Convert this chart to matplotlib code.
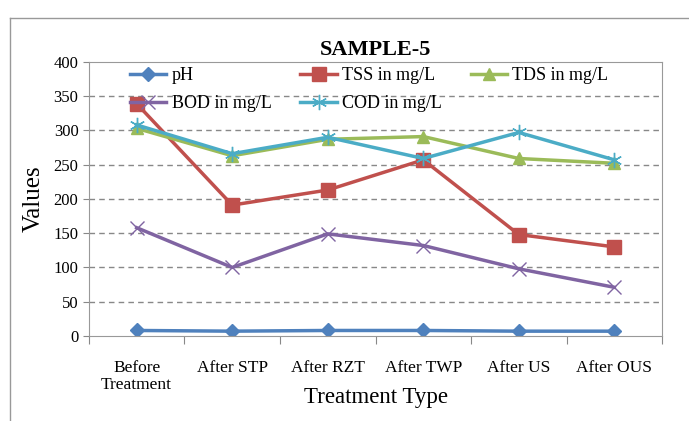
import matplotlib.pyplot as plt
from matplotlib.lines import Line2D

plt.rcParams['font.family'] = ['Liberation Serif', 'DejaVu Serif']

categories = ["Before\nTreatment", "After STP", "After RZT", "After TWP", "After US", "After OUS"]
ph = [8, 7, 8, 8, 7, 7]
tss = [339, 191, 213, 257, 148, 130]
tds = [303, 263, 287, 291, 259, 252]
bod = [158, 100, 149, 132, 98, 71]
cod = [308, 266, 290, 259, 297, 257]

fig = plt.figure(figsize=(6.89, 4.21), dpi=100)
ax = fig.add_axes([0.129, 0.202, 0.832, 0.651])

x = list(range(len(categories)))
lw = 2.5
l_ph, = ax.plot(x, ph, color="#4F81BD", lw=lw, marker="D", ms=7, label="pH")
l_tss, = ax.plot(x, tss, color="#C0504D", lw=lw, marker="s", ms=10, label="TSS in mg/L")
l_tds, = ax.plot(x, tds, color="#9BBB59", lw=lw, marker="^", ms=9, label="TDS in mg/L")
l_bod, = ax.plot(x, bod, color="#8064A2", lw=lw, marker="x", ms=10, mew=1, label="BOD in mg/L")
l_cod, = ax.plot(x, cod, color="#4BACC6", lw=lw, marker=(6, 2, 0), ms=11, mew=1, label="COD in mg/L")

ax.set_xlim(-0.5, 5.5)
ax.set_ylim(0, 400)
ax.set_yticks(range(0, 401, 50))
ax.set_xticks([i - 0.5 for i in range(len(categories) + 1)])
ax.set_xticklabels([])
ax.set_xticks(x, minor=True)
ax.set_xticklabels(categories, minor=True, fontsize=12.5, linespacing=1.15)
ax.tick_params(axis="x", which="minor", length=0, pad=17)
ax.tick_params(axis="x", which="major", length=6, color="#888888")
ax.tick_params(axis="y", length=4, color="#888888", labelsize=12)

for yv in range(50, 400, 50):
    ax.axhline(yv, color="#888888", ls=(0, (4, 3)), lw=1, zorder=0)
for s in ax.spines.values():
    s.set_color("#999999")

ax.set_title("SAMPLE-5", fontsize=16, fontweight="bold", pad=5)
ax.set_ylabel("Values", fontsize=18, labelpad=6)
ax.set_xlabel("Treatment Type", fontsize=16.5)
ax.xaxis.set_label_coords(0.5, -0.185)

# row-wise legend order (matplotlib fills columns first)
handles = [l_ph, l_bod, l_tss, l_cod, l_tds]
ax.legend(handles=handles, labels=[h.get_label() for h in handles],
          loc="upper left", bbox_to_anchor=(0.072, 0.98), ncol=3, frameon=False,
          fontsize=13, handlelength=2.0, handletextpad=0.3, columnspacing=1.6,
          labelspacing=0.6, borderpad=0, borderaxespad=0, numpoints=1)

# outer chart border (top and left)
fig.add_artist(Line2D([0.015, 1.0], [0.957, 0.957], color="#999999", lw=1))
fig.add_artist(Line2D([0.015, 0.015], [0.0, 0.957], color="#999999", lw=1))

fig.savefig("out.png", dpi=100)
